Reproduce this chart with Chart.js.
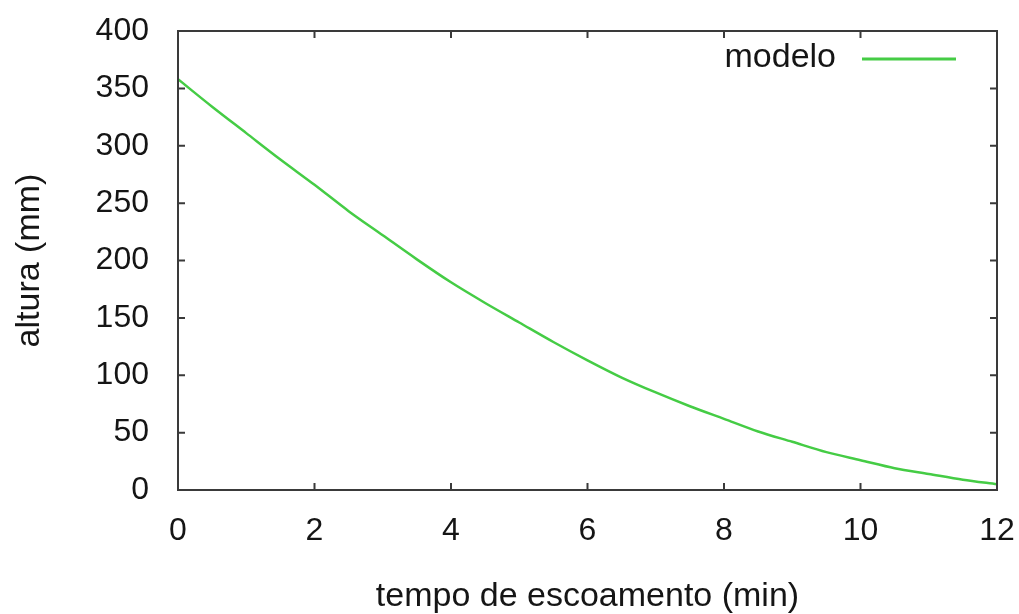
<!DOCTYPE html>
<html>
<head>
<meta charset="utf-8">
<script src="https://cdn.jsdelivr.net/npm/chart.js@4/dist/chart.umd.min.js"></script>
<style>
  html, body { margin: 0; padding: 0; background: #fff; }
  #wrap { width: 1019px; height: 614px; }
</style>
</head>
<body>
<div id="wrap"><canvas id="grafico" width="1019" height="614"></canvas></div>
<script>
// dados
const tempo = [0, 0.5, 1, 1.5, 2, 2.5, 3, 3.5, 4, 4.5, 5, 5.5, 6, 6.5, 7, 7.5, 8, 8.5, 9, 9.5, 10, 10.5, 11, 11.5, 12];
const altura = [358, 334, 311, 288, 266, 243, 222, 201, 181, 163, 146, 129, 113, 98, 85, 73, 62, 51, 42, 33, 26, 19, 14, 9, 5];
const serieNome = "modelo";
const xTicks = [0, 2, 4, 6, 8, 10, 12];
const yTicks = [0, 50, 100, 150, 200, 250, 300, 350, 400];

const fonte = "'Liberation Sans', Arial, sans-serif";
const corTexto = "#151515";
const corEixo = "#3a3a3a";
const verde = "#45cc45";

// moldura com ticks para dentro (estilo gnuplot) + legenda
const molduraPlugin = {
  id: "moldura",
  afterDraw(chart) {
    const { ctx, chartArea: a, scales } = chart;
    ctx.save();
    ctx.strokeStyle = corEixo;
    ctx.lineWidth = 2;
    ctx.strokeRect(a.left, a.top, a.right - a.left, a.bottom - a.top);
    const len = 7;
    ctx.beginPath();
    xTicks.forEach(v => {
      const px = scales.x.getPixelForValue(v);
      ctx.moveTo(px, a.bottom); ctx.lineTo(px, a.bottom - len);
      ctx.moveTo(px, a.top); ctx.lineTo(px, a.top + len);
    });
    yTicks.forEach(v => {
      const py = scales.y.getPixelForValue(v);
      ctx.moveTo(a.left, py); ctx.lineTo(a.left + len, py);
      ctx.moveTo(a.right, py); ctx.lineTo(a.right - len, py);
    });
    ctx.stroke();

    // legenda
    ctx.font = "34px " + fonte;
    ctx.fillStyle = corTexto;
    ctx.textAlign = "right";
    ctx.textBaseline = "middle";
    ctx.fillText(serieNome, a.right - 161, a.top + 27);
    ctx.strokeStyle = verde;
    ctx.lineWidth = 3;
    ctx.beginPath();
    ctx.moveTo(a.right - 135, a.top + 28);
    ctx.lineTo(a.right - 41, a.top + 28);
    ctx.stroke();
    ctx.restore();
  }
};

const ctx = document.getElementById("grafico").getContext("2d");

const grafico = new Chart(ctx, {
  type: "line",
  data: {
    datasets: [{
      label: serieNome,
      data: tempo.map((t, i) => ({ x: t, y: altura[i] })),
      borderColor: verde,
      borderWidth: 2.5,
      pointRadius: 0,
      tension: 0.3,
      fill: false
    }]
  },
  options: {
    responsive: false,
    animation: false,
    layout: { padding: { top: 31, right: 22, left: 0, bottom: 0 } },
    plugins: {
      legend: { display: false },
      tooltip: { enabled: false }
    },
    scales: {
      x: {
        type: "linear",
        min: 0,
        max: 12,
        afterFit(scale) {
          scale.height = 124;
          scale.paddingLeft = 0;
          scale.paddingRight = 0;
        },
        afterBuildTicks(scale) { scale.ticks = xTicks.map(v => ({ value: v })); },
        grid: { display: false, drawTicks: false },
        border: { display: false },
        ticks: {
          padding: 22,
          color: corTexto,
          font: { family: fonte, size: 32 }
        },
        title: {
          display: true,
          text: "tempo de escoamento (min)",
          color: corTexto,
          font: { family: fonte, size: 34, lineHeight: 1.0 },
          padding: { top: 0, bottom: 0 }
        }
      },
      y: {
        min: 0,
        max: 400,
        afterFit(scale) {
          scale.width = 178;
          scale.paddingTop = 0;
          scale.paddingBottom = 0;
        },
        afterBuildTicks(scale) { scale.ticks = yTicks.map(v => ({ value: v })); },
        grid: { display: false, drawTicks: false },
        border: { display: false },
        ticks: {
          padding: 29,
          color: corTexto,
          font: { family: fonte, size: 32 }
        },
        title: {
          display: true,
          text: "altura (mm)",
          color: corTexto,
          font: { family: fonte, size: 34, lineHeight: 1.0 },
          padding: { top: 13, bottom: 0 }
        }
      }
    }
  },
  plugins: [molduraPlugin]
});
</script>
</body>
</html>
